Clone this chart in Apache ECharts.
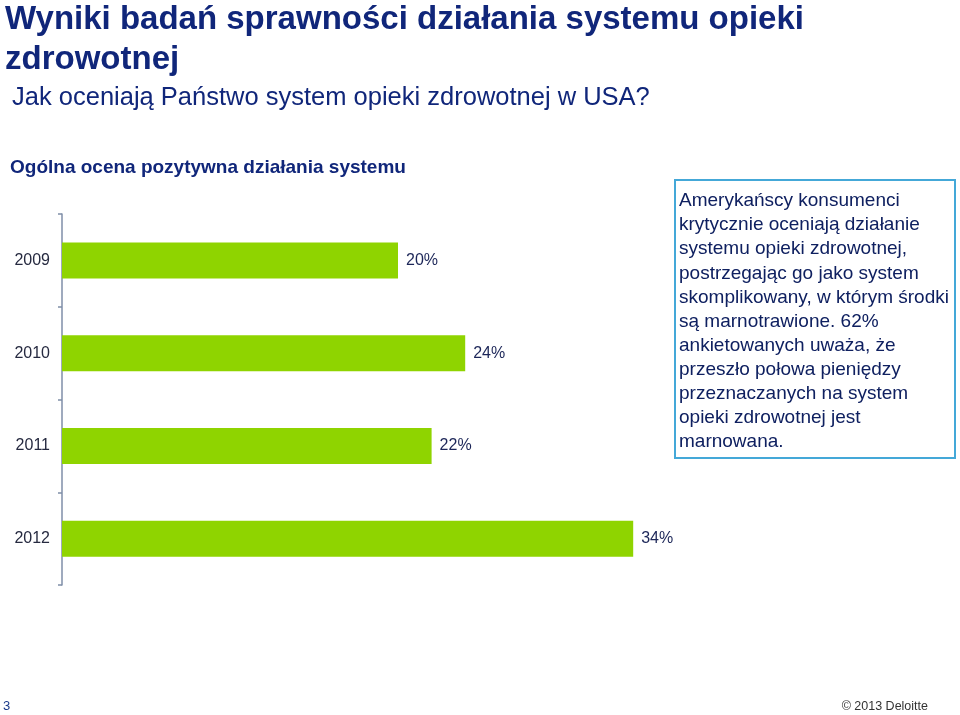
<!DOCTYPE html>
<html><head><meta charset="utf-8">
<script src="https://cdn.jsdelivr.net/npm/echarts@6/dist/echarts.min.js"></script>
<style>html,body{margin:0;padding:0;background:#fff}#c{width:960px;height:715px}</style>
</head><body><div id="c"></div>
<script>
const categories = ['2009', '2010', '2011', '2012'];
const values = [20, 24, 22, 34];
const titleLines = ['Wyniki badań sprawności działania systemu opieki', 'zdrowotnej'];
const subtitle = 'Jak oceniają Państwo system opieki zdrowotnej w USA?';
const chartTitle = 'Ogólna ocena pozytywna działania systemu';
const noteText = 'Amerykańscy konsumenci\nkrytycznie oceniają działanie\nsystemu opieki zdrowotnej,\npostrzegając go jako system\nskomplikowany, w którym środki\nsą marnotrawione. 62%\nankietowanych uważa, że\nprzeszło połowa pieniędzy\nprzeznaczanych na system\nopieki zdrowotnej jest\nmarnowana.';
const pageNumber = '3';
const copyright = '© 2013 Deloitte';

const FONT = '"Liberation Sans", Arial, sans-serif';
const NAVY = '#10267a';
const chart = echarts.init(document.getElementById('c'));
chart.setOption({
  animation: false,
  backgroundColor: '#ffffff',
  grid: { left: 62, top: 214, width: 672, height: 371, containLabel: false },
  xAxis: { type: 'value', min: 0, max: 40, show: false },
  yAxis: {
    type: 'category', data: categories, inverse: true,
    axisLine: { show: true, lineStyle: { color: '#7f8ea8', width: 1.5 } },
    axisTick: { show: true, inside: false, length: 4, lineStyle: { color: '#7f8ea8', width: 1.5 } },
    axisLabel: { margin: 12, fontSize: 16, color: '#262a40', fontFamily: FONT },
    splitLine: { show: false }
  },
  series: [{
    type: 'bar', data: values, barWidth: 36,
    itemStyle: { color: '#8fd400' },
    label: { show: true, position: 'right', distance: 8, formatter: '{c}%', fontSize: 16, color: '#1c2658', fontFamily: FONT }
  }],
  graphic: [
    { type: 'text', left: 5, top: 0, style: { text: titleLines.join('\n'), font: 'bold 33px ' + FONT, fill: NAVY, lineHeight: 40 } },
    { type: 'text', left: 12, top: 85, style: { text: subtitle, font: '25.5px ' + FONT, fill: NAVY } },
    { type: 'text', left: 10, top: 158, style: { text: chartTitle, font: 'bold 19px ' + FONT, fill: NAVY } },
    { type: 'rect', shape: { x: 675, y: 180, width: 280, height: 278 }, style: { fill: '#ffffff', stroke: '#44a8d8', lineWidth: 2 } },
    { type: 'text', x: 679, y: 189, style: { text: noteText, font: '19px ' + FONT, fill: '#0f2060', lineHeight: 24.1 } },
    { type: 'text', left: 3, top: 700, style: { text: pageNumber, font: '13px ' + FONT, fill: '#1a3a8a' } },
    { type: 'text', right: 32, top: 700, style: { text: copyright, font: '12.5px ' + FONT, fill: '#333333' } }
  ]
});
</script></body></html>
